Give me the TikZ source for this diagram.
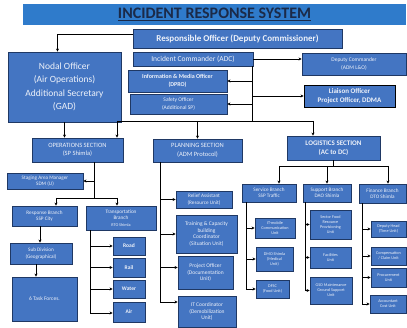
\documentclass[tikz,border=0pt]{standalone}
\usepackage{fontspec}
\setmainfont{Carlito}
\usetikzlibrary{arrows.meta}
\definecolor{boxblue}{HTML}{4475C2}
\definecolor{edge}{HTML}{1F3864}
\definecolor{titleblue}{HTML}{2F7BCB}
\definecolor{titletext}{HTML}{1B2A48}
\definecolor{boxtext}{HTML}{EEF2FA}
\newcommand\bx[7][]{\node[box,minimum width={#5-#3},minimum height={#6-#4},#1] (#2) at ({(#3+#5)/2},{(#4+#6)/2}) {#7};}
\begin{document}
\begin{tikzpicture}[x=1pt,y=-1pt,
  box/.style={draw=edge,line width=0.9pt,fill=boxblue,text=boxtext,align=center,inner sep=0pt,font=\fontsize{5.5}{6.5}\bfseries\selectfont},
  arr/.style={-{Stealth[length=3pt,width=3pt]},line width=0.6pt},
  ln/.style={line width=0.6pt}]
\useasboundingbox (0,0) rectangle (407,328);
\fill[white] (0,0) rectangle (407,328);
% title
\node[fill=titleblue,minimum width=383,minimum height=21,inner sep=0pt,text=titletext,font=\fontsize{16}{18}\bfseries\selectfont] (title) at (214.5,14.5) {\underline{INCIDENT RESPONSE SYSTEM}};
% top level
\bx[font=\fontsize{9}{10}\bfseries\selectfont]{ro}{133}{29}{342}{48}{Responsible Officer (Deputy Commissioner)}
\bx[font=\fontsize{9.5}{13.5}\selectfont]{nodal}{8}{52}{121}{122}{Nodal Officer\\(Air Operations)\\Additional Secretary\\(GAD)}
\bx[font=\fontsize{7.5}{9}\selectfont]{ic}{133}{52}{253}{66}{Incident Commander (ADC)}
\bx[font=\fontsize{6}{8}\bfseries\selectfont]{info}{128}{70}{227}{92}{Information \& Media Officer\\(DPRO)}
\bx[font=\fontsize{5.5}{7.5}\selectfont]{safety}{130}{94}{227}{114}{Safety Officer\\(Additional SP)}
\bx[font=\fontsize{5.5}{7.5}\selectfont]{dc}{302}{53}{406}{75}{Deputy Commander\\(ADM L\&O)}
\bx[font=\fontsize{7}{9}\bfseries\selectfont,draw=black]{liaison}{304}{85}{395}{107}{Liaison Officer\\Project Officer, DDMA}
% sections
\bx[font=\fontsize{6.5}{8.5}\selectfont]{ops}{32}{138}{123}{162}{OPERATIONS SECTION\\(SP Shimla)}
\bx[font=\fontsize{6.5}{8.5}\selectfont]{plan}{153}{139}{242}{162}{PLANNING SECTION\\(ADM Protocol)}
\bx[font=\fontsize{7}{9}\bfseries\selectfont]{log}{287}{136}{380}{160}{LOGISTICS SECTION\\(AC to DC)}
% operations
\bx[font=\fontsize{5.2}{6.5}\selectfont]{stag}{7}{173}{83}{189}{Staging Area Manager\\SDM (U)}
\bx[font=\fontsize{5.2}{6.5}\selectfont]{resp}{12}{206}{77}{226}{Response Branch\\SSP City}
\bx[font=\fontsize{5.2}{6.3}\selectfont]{trans}{86}{206}{156}{230}{Transportation\\Branch\\{\fontsize{4.2}{5}\selectfont RTO Shimla}}
\bx[font=\fontsize{5.2}{6.5}\selectfont]{div}{10}{243}{72}{264}{Sub Division\\(Geographical)}
\bx[font=\fontsize{5.5}{6.5}\selectfont]{tf}{12}{277}{77}{321}{6 Task Forces.}
\bx{road}{113}{237}{145}{255}{Road}
\bx{rail}{113}{258}{145}{277}{Rail}
\bx{water}{113}{280}{145}{298}{Water}
\bx{air}{113}{302}{145}{322}{Air}
% planning
\bx[font=\fontsize{5.2}{6.3}\selectfont]{ra}{176}{191}{232}{208}{Relief Assistant\\(Resource Unit)}
\bx[font=\fontsize{5.5}{6.6}\selectfont]{tc}{176}{215}{237}{253}{Training \& Capacity\\building\\Coordinator\\(Situation Unit)}
\bx[font=\fontsize{5.5}{6.6}\selectfont]{po}{178}{256}{233}{289}{Project Officer\\(Documentation\\Unit)}
\bx[font=\fontsize{5.5}{6.6}\selectfont]{itc}{178}{296}{236}{327}{IT Coordinator\\(Demobilization\\Unit)}
% logistics
\bx[font=\fontsize{5.2}{6.3}\selectfont]{sb}{242}{184}{296}{202}{Service Branch\\SSP Traffic}
\bx[font=\fontsize{5.2}{6.3}\selectfont]{spb}{303}{184}{351}{202}{Support Branch\\DAO Shimla}
\bx[font=\fontsize{5.2}{6.3}\selectfont]{fb}{359}{184}{406}{203}{Finance Branch\\DTO Shimla}
\bx[font=\fontsize{4.2}{5}\selectfont]{comm}{255}{218}{295}{238}{IT-mobile\\Communication\\Unit}
\bx[font=\fontsize{4.2}{5}\selectfont]{med}{256}{247}{293}{271}{DMO Shimla\\(Medical\\Unit)}
\bx[font=\fontsize{4.2}{5}\selectfont]{food}{256}{280}{289}{298}{DFSC\\(Food Unit)}
\bx[font=\fontsize{4.2}{5}\selectfont]{rpu}{310}{210}{351}{239}{Sector Food\\Resource\\Provisioning\\Unit}
\bx[font=\fontsize{4.2}{5}\selectfont]{fac}{310}{247}{351}{268}{Facilities\\Unit}
\bx[font=\fontsize{4.2}{5}\selectfont]{gsu}{310}{277}{352}{304}{GSO Maintenance\\Ground Support\\Unit}
\bx[font=\fontsize{4.2}{5}\selectfont]{time}{371}{221}{406}{237}{Deputy Head\\(Time Unit)}
\bx[font=\fontsize{4.2}{5}\selectfont]{comp}{371}{247}{406}{265}{Compensation\\/ Claim Unit}
\bx[font=\fontsize{4.2}{5}\selectfont]{proc}{371}{268}{406}{287}{Procurement\\Unit}
\bx[font=\fontsize{4.2}{5}\selectfont]{cost}{370}{295}{406}{313}{Accountant\\Cost Unit}
% connectors: top
\draw[arr] ([yshift=4pt]ro.west) -| ([xshift=-7pt]nodal.north);
\draw[arr] (ic.east) -- (ic.east -| dc.west);
\coordinate (icb) at (252,121);
\draw[ln] (ic.south -| icb) -- (icb);
\draw[arr] (info.east -| icb) -- (info.east);
\draw[arr] (safety.east -| icb) -- (safety.east);
\draw[arr] (liaison.west -| icb) -- (liaison.west);
\coordinate (busL) at (117,121);
\coordinate (busR) at (313,121);
\draw[ln] (busL) -- (busR);
\draw[arr] (busL) -- (busL |- ops.north);
\draw[arr] (plan.north |- busL) -- (plan.north);
\draw[arr] (busR) -- (busR |- log.north);
\draw[arr] (nodal.south) -- (nodal.south |- ops.north);
% operations
\coordinate (opj) at (94,198);
\coordinate (opL) at (56,198);
\coordinate (opR) at (117,198);
\draw[ln] (ops.south -| opj) -- (opj);
\draw[arr] (stag.east -| opj) -- (stag.east);
\draw[ln] (opL) -- (opR);
\draw[arr] (opL) -- (opL |- resp.north);
\draw[arr] (opR) -- (opR |- trans.north);
\draw[arr] ([xshift=-4.5pt]resp.south) -- ([xshift=-4.5pt]resp.south |- div.north);
\draw[arr] ([xshift=-5pt]div.south) -- ([xshift=-5pt]div.south |- tf.north);
\coordinate (trv) at (90,313);
\draw[ln] (trans.south -| trv) -- (trv);
\draw[arr] (road.west -| trv) -- (road.west);
\draw[arr] (rail.west -| trv) -- (rail.west);
\draw[arr] (water.west -| trv) -- (water.west);
\draw[arr] (trv) -- (trv -| air.west);
% planning
\coordinate (plv) at (160,302);
\draw[ln] (plan.south -| plv) -- (plv);
\draw[arr] (ra.west -| plv) -- (ra.west);
\draw[arr] (tc.west -| plv) -- (tc.west);
\draw[arr] ([yshift=5pt]po.west -| plv) -- ([yshift=5pt]po.west);
\draw[arr] (plv) -- (plv -| itc.west);
% logistics
\coordinate (lgL) at (279,166);
\coordinate (lgR) at (388,166);
\draw[ln] (log.south) -- (log.south |- lgL);
\draw[ln] (lgL) -- (lgR);
\draw[arr] (lgL) -- (lgL |- sb.north);
\draw[arr] (spb.north |- lgL) -- (spb.north);
\draw[arr] (lgR) -- (lgR |- fb.north);
\coordinate (sv) at (246,290);
\draw[ln] (sb.south -| sv) -- (sv |- food.west);
\draw[arr] (comm.west -| sv) -- (comm.west);
\draw[arr] (med.west -| sv) -- (med.west);
\draw[arr] (food.west -| sv) -- (food.west);
\coordinate (spv) at (305,290);
\draw[ln] (spb.south -| spv) -- (spv |- gsu.west);
\draw[arr] (rpu.west -| spv) -- (rpu.west);
\draw[arr] (fac.west -| spv) -- (fac.west);
\draw[arr] (gsu.west -| spv) -- (gsu.west);
\coordinate (fv) at (362,300);
\draw[ln] (fb.south -| fv) -- (fv |- cost.west);
\draw[arr] (time.west -| fv) -- (time.west);
\draw[arr] (comp.west -| fv) -- (comp.west);
\draw[arr] (proc.west -| fv) -- (proc.west);
\draw[arr] (cost.west -| fv) -- (cost.west);
\end{tikzpicture}
\end{document}
